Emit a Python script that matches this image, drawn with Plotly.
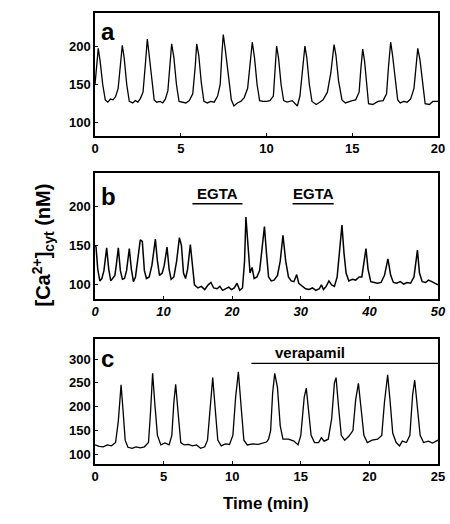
import plotly.graph_objects as go

# ---------- data ----------
# Panel a
ta = [0, 0.08, 0.19, 0.3, 0.45, 0.6, 0.75, 0.9, 1.05, 1.2, 1.35, 1.48, 1.59, 1.7, 1.85, 2.0, 2.2, 2.35, 2.5, 2.65,
      2.8, 2.95, 3.05, 3.15, 3.3, 3.45, 3.6, 3.8, 3.95, 4.1, 4.25, 4.38, 4.47, 4.6, 4.75, 4.9, 5.1, 5.3, 5.5, 5.7,
      5.85, 5.93, 6.05, 6.2, 6.35, 6.55, 6.75, 6.95, 7.15, 7.3, 7.4, 7.48, 7.6, 7.8, 7.95, 8.1, 8.3, 8.5, 8.7, 8.9,
      9.05, 9.17, 9.3, 9.45, 9.6, 9.8, 10.0, 10.2, 10.4, 10.5, 10.59, 10.7, 10.85, 11.0, 11.2, 11.5, 11.8, 11.95,
      12.1, 12.24, 12.35, 12.5, 12.65, 12.9, 13.1, 13.3, 13.55, 13.75, 13.94, 14.05, 14.2, 14.4, 14.6, 14.8, 15.0,
      15.2, 15.4, 15.5, 15.61, 15.72, 15.85, 15.95, 16.2, 16.5, 16.8, 17.0, 17.12, 17.24, 17.35, 17.5, 17.65, 17.8,
      18.0, 18.2, 18.4, 18.6, 18.72, 18.82, 18.95, 19.1, 19.25, 19.5, 19.7, 20.0]
va = [150, 175, 197, 180, 150, 130, 127, 131, 130, 134, 145, 175, 201, 185, 150, 128, 126, 129, 127, 132,
      140, 180, 209, 190, 155, 130, 127, 128, 126, 131, 142, 175, 203, 185, 150, 128, 127, 126, 129, 138,
      175, 203, 188, 152, 128, 126, 128, 127, 135, 150, 190, 215, 195, 155, 130, 122, 126, 128, 133, 145,
      180, 205, 185, 150, 129, 128, 128, 129, 135, 170, 200, 185, 150, 129, 127, 129, 122, 135,
      165, 200, 185, 150, 128, 124, 127, 130, 140, 165, 202, 188, 155, 130, 126, 128, 129,
      130, 140, 170, 196, 180, 150, 125, 124, 128, 129, 138, 175, 205, 188, 155, 130, 126,
      128, 127, 131, 145, 178, 197, 182, 150, 125, 124, 128, 128]

# Panel b
tb = [0, 0.15, 0.4, 0.7, 1.0, 1.3, 1.7, 2.0, 2.3, 2.6, 2.9, 3.1, 3.4, 3.7, 4.0, 4.3, 4.6, 5.0, 5.3, 5.6, 5.9, 6.2,
      6.6, 6.9, 7.2, 7.5, 7.9, 8.3, 8.8, 9.1, 9.4, 9.8, 10.1, 10.5, 10.8, 11.1, 11.5, 11.9, 12.3, 12.6, 12.9, 13.2,
      13.5, 13.9, 14.2, 14.5, 15.0, 15.5, 16.0, 16.5, 16.9, 17.3, 17.8, 18.2, 18.6, 19.0, 19.5, 19.9, 20.3, 20.7,
      21.1, 21.5, 21.8, 22.0, 22.3, 22.6, 22.9, 23.2, 23.6, 24.0, 24.4, 24.7, 25.0, 25.3, 25.7, 26.1, 26.6, 27.0,
      27.4, 27.8, 28.2, 28.6, 29.0, 29.4, 29.7, 30.2, 30.7, 31.2, 31.7, 32.2, 32.7, 33.0, 33.3, 33.7, 34.1, 34.5,
      34.9, 35.3, 35.7, 36.0, 36.3, 36.6, 37.0, 37.5, 38.0, 38.5, 38.9, 39.2, 39.5, 39.8, 40.2, 40.7, 41.2, 41.7,
      42.2, 42.7, 43.1, 43.5, 44.0, 44.5, 45.0, 45.5, 46.0, 46.5, 47.0, 47.3, 47.7, 48.2, 48.6, 49.1, 49.6, 50.0]
vb = [150, 148, 120, 105, 108, 118, 147, 120, 105, 108, 112, 125, 147, 118, 107, 108, 118, 146, 120, 104, 110, 130,
      157, 155, 118, 108, 110, 125, 158, 130, 112, 115, 125, 148, 120, 107, 110, 130, 160, 150, 115, 108,
      120, 151, 125, 100, 96, 98, 94, 100, 103, 96, 95, 98, 93, 95, 97, 94, 96, 102,
      93, 96, 130, 186, 150, 115, 122, 108, 110, 118, 150, 174, 140, 110, 105, 106, 112, 130,
      163, 130, 110, 105, 104, 113, 102, 98, 95, 94, 96, 93, 95, 100, 94, 98, 105, 100,
      98, 110, 150, 176, 140, 115, 105, 107, 106, 110, 110, 130, 146, 120, 104, 103, 102, 103,
      112, 133, 112, 103, 102, 104, 101, 103, 102, 110, 144, 115, 104, 103, 106, 104, 102, 100]

# Panel c
tc = [0, 0.3, 0.6, 0.9, 1.2, 1.5, 1.7, 1.9, 2.05, 2.2, 2.4, 2.7, 3.0, 3.3, 3.6, 3.9, 4.05, 4.2, 4.35, 4.55, 4.8,
      5.1, 5.4, 5.6, 5.75, 5.88, 6.05, 6.25, 6.5, 6.8, 7.1, 7.4, 7.7, 8.0, 8.2, 8.4, 8.58, 8.75, 8.95, 9.2, 9.5,
      9.8, 10.05, 10.25, 10.45, 10.65, 10.85, 11.1, 11.5, 11.9, 12.2, 12.5, 12.65, 12.8, 12.95, 13.1, 13.3, 13.5,
      13.7, 14.1, 14.5, 14.8, 15.0, 15.25, 15.4, 15.55, 15.75, 16.0, 16.3, 16.5, 16.7, 17.0, 17.25, 17.45, 17.57,
      17.75, 17.95, 18.2, 18.5, 18.8, 19.0, 19.2, 19.4, 19.6, 19.85, 20.2, 20.6, 20.9, 21.1, 21.33, 21.5, 21.7,
      21.95, 22.2, 22.4, 22.7, 22.95, 23.15, 23.3, 23.5, 23.7, 23.95, 24.3, 24.6, 25.0]
vc = [120, 117, 116, 120, 118, 125, 170, 246, 190, 130, 115, 113, 116, 114, 116, 125, 190, 270, 210, 140, 120,
      124, 120, 140, 210, 247, 190, 125, 120, 121, 118, 120, 113, 116, 130, 200, 261, 200, 130, 118, 122,
      121, 140, 220, 273, 200, 130, 120, 122, 121, 124, 126, 132, 150, 230, 270, 240, 160,
      132, 132, 128, 120, 140, 220, 239, 200, 140, 125, 125, 135, 128, 132, 175, 250, 261,
      200, 140, 130, 138, 150, 215, 249, 200, 140, 125, 130, 132, 140, 210, 267, 215, 145,
      125, 118, 128, 125, 140, 225, 256, 200, 140, 125, 128, 124, 130]

# Annotations / treatment bars
egta_starts = [14.2, 28.8]
egta_ends = [21.5, 34.8]
egta_label = "EGTA"
verapamil_start = 11.4
verapamil_end = 25
verapamil_label = "verapamil"

xticks_a = [0, 5, 10, 15, 20]
xticks_b = [0, 10, 20, 30, 40, 50]
xticks_c = [0, 5, 10, 15, 20, 25]
yticks_ab = [100, 150, 200]
yticks_c = [100, 150, 200, 250, 300]

# ---------- figure ----------
W, H = 450, 524
FONT = "Liberation Sans, Arial, sans-serif"

fig = go.Figure()
fig.add_trace(go.Scatter(x=ta, y=va, mode="lines", line=dict(color="black", width=1.3),
                         xaxis="x", yaxis="y", showlegend=False))
fig.add_trace(go.Scatter(x=tb, y=vb, mode="lines", line=dict(color="black", width=1.5),
                         xaxis="x2", yaxis="y2", showlegend=False))
fig.add_trace(go.Scatter(x=tc, y=vc, mode="lines", line=dict(color="black", width=1.3),
                         xaxis="x3", yaxis="y3", showlegend=False))

xdom = [95 / W, 438 / W]


def ydom(top, bottom):
    return [1 - bottom / H, 1 - top / H]


axis_common = dict(showline=True, mirror=True, linecolor="black", linewidth=1.5,
                   ticks="inside", ticklen=3, tickcolor="black", showgrid=False, zeroline=False,
                   automargin=False)
tickfont = dict(family=FONT, size=13, color="black", weight="bold")
tickfont_it = dict(family=FONT, size=13, color="black", weight="bold", style="italic")

fig.update_layout(
    width=W, height=H,
    margin=dict(l=0, r=0, t=0, b=0),
    paper_bgcolor="white", plot_bgcolor="white",
    xaxis=dict(domain=xdom, range=[0, 20], tickvals=xticks_a, tickfont=tickfont, anchor="y", **axis_common),
    yaxis=dict(domain=ydom(13, 136), range=[83, 243], tickvals=yticks_ab, tickfont=tickfont, anchor="x",
               **axis_common),
    xaxis2=dict(domain=xdom, range=[0, 50], tickvals=xticks_b, tickfont=tickfont_it, anchor="y2", **axis_common),
    yaxis2=dict(domain=ydom(173, 299), range=[82, 242], tickvals=yticks_ab, tickfont=tickfont, anchor="x2",
                **axis_common),
    xaxis3=dict(domain=xdom, range=[0, 25], tickvals=xticks_c, tickfont=tickfont, anchor="y3", **axis_common),
    yaxis3=dict(domain=ydom(339, 464), range=[80, 342], tickvals=yticks_c, tickfont=tickfont, anchor="x3",
                **axis_common),
)

shapes = []
annotations = []
for s, e in zip(egta_starts, egta_ends):
    shapes.append(dict(type="line", xref="x2", yref="y2", x0=s, x1=e, y0=203, y1=203,
                       line=dict(color="black", width=1.5)))
    annotations.append(dict(xref="x2", yref="y2", x=(s + e) / 2, y=216, text=egta_label, showarrow=False,
                            font=dict(family=FONT, size=15, color="black", weight="bold")))
shapes.append(dict(type="line", xref="x3", yref="y3", x0=verapamil_start, x1=verapamil_end, y0=291, y1=291,
                   line=dict(color="black", width=1.3)))
annotations.append(dict(xref="x3", yref="y3", x=15.7, y=313, text=verapamil_label, showarrow=False,
                        font=dict(family=FONT, size=15, color="black", weight="bold")))

for letter, ypx in [("a", 31), ("b", 197), ("c", 358)]:
    annotations.append(dict(xref="paper", yref="paper", x=99 / W, y=1 - ypx / H, xanchor="left",
                            yanchor="middle", text=letter, showarrow=False,
                            font=dict(family=FONT, size=24, color="black", weight="bold")))

annotations.append(dict(xref="paper", yref="paper", x=26 / W, y=1 - 245 / H, textangle=-90,
                        text="[Ca<sup>2+</sup>]<sub>cyt</sub> (nM)", showarrow=False,
                        font=dict(family=FONT, size=20, color="black", weight="bold")))
annotations.append(dict(xref="paper", yref="paper", x=266 / W, y=1 - 515 / H,
                        text="Time (min)", showarrow=False,
                        font=dict(family=FONT, size=17, color="black", weight="bold")))

fig.update_layout(shapes=shapes, annotations=annotations)
fig.write_html("out.html", config={"displayModeBar": False},
               post_script="document.body.style.margin='0';document.body.style.overflow='hidden';"
                           "document.documentElement.style.overflow='hidden';")
